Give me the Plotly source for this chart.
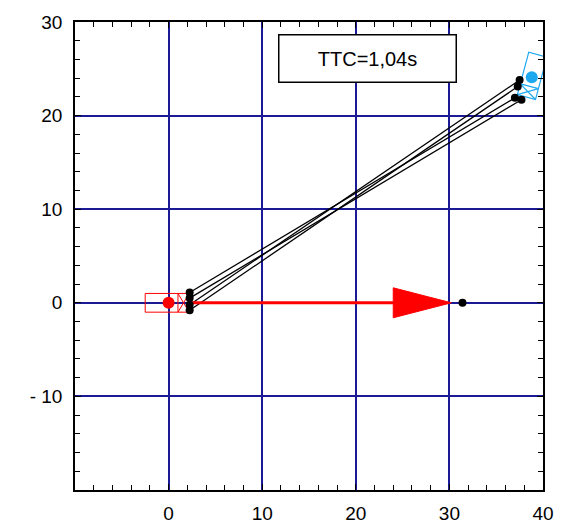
import numpy as np
import plotly.graph_objects as go

# ---------------- data ----------------
x_ticks = [0, 10, 20, 30, 40]
x_tick_labels = ["0", "10", "20", "30", "40"]
y_ticks = [-10, 0, 10, 20, 30]
y_tick_labels = ["- 10", "0", "10", "20", "30"]
x_range = [-10, 40]
y_range = [-20, 30]

# vehicles: reference point, heading (deg)
ego_ref = (0.0, 0.0)
ego_heading = 0.0
obj_ref = (38.8, 24.1)
obj_heading = -105.0
veh_rear = 2.5     # rear overhang from reference point
veh_front = 2.2    # front overhang from reference point
veh_half_w = 1.0
veh_div = 1.0      # front-section divider

# connection lines between ego corners and object corners
left_x = [2.25, 2.25, 2.25, 2.25]
left_y = [1.1, 0.5, -0.2, -0.8]
right_x = [37.0, 37.7, 37.5, 37.3]
right_y = [21.9, 21.7, 23.8, 23.1]

# ego velocity arrow
arrow_start = 2.3
arrow_tip = 30.2
arrow_head_len = 6.2
arrow_head_hw = 1.6
pred_point = (31.4, 0.0)

ttc_text = "TTC=1,04s"
ttc_pos = (21.3, 26.1)

RED = "#ff0000"
CYAN = "#1ea8f0"
GRID = "#1a1a96"


def vehicle(ref, heading_deg):
    h = np.deg2rad(heading_deg)
    u = np.array([np.cos(h), np.sin(h)])
    p = np.array([-u[1], u[0]])
    r = np.array(ref)
    rear = r - veh_rear * u
    front = r + veh_front * u
    div = r + veh_div * u
    rl, rr = rear + veh_half_w * p, rear - veh_half_w * p
    fl, fr = front + veh_half_w * p, front - veh_half_w * p
    dl, dr = div + veh_half_w * p, div - veh_half_w * p
    pts = [rl, rr, fr, fl, rl, None, dl, dr, None, dl, fr, None, dr, fl]
    xs = [q[0] if q is not None else None for q in pts]
    ys = [q[1] if q is not None else None for q in pts]
    return xs, ys


fig = go.Figure()

# connection lines
for lx, ly, rx, ry in zip(left_x, left_y, right_x, right_y):
    fig.add_trace(go.Scatter(x=[lx, rx], y=[ly, ry], mode="lines",
                             line=dict(color="black", width=1.3), showlegend=False))

# ego vehicle
ex, ey = vehicle(ego_ref, ego_heading)
fig.add_trace(go.Scatter(x=ex, y=ey, mode="lines", line=dict(color=RED, width=1),
                         showlegend=False))
# object vehicle
ox, oy = vehicle(obj_ref, obj_heading)
fig.add_trace(go.Scatter(x=ox, y=oy, mode="lines", line=dict(color=CYAN, width=1.2),
                         showlegend=False))

# arrow shaft + head
base = arrow_tip - arrow_head_len
fig.add_trace(go.Scatter(x=[arrow_start, base], y=[0, 0], mode="lines",
                         line=dict(color=RED, width=3), showlegend=False))
fig.add_trace(go.Scatter(x=[base, arrow_tip, base, base],
                         y=[arrow_head_hw, 0, -arrow_head_hw, arrow_head_hw],
                         mode="lines", fill="toself", fillcolor=RED,
                         line=dict(color=RED, width=1), showlegend=False))

# endpoint dots
fig.add_trace(go.Scatter(x=left_x + right_x + [pred_point[0]],
                         y=left_y + right_y + [pred_point[1]],
                         mode="markers", marker=dict(color="black", size=8),
                         showlegend=False))
fig.add_trace(go.Scatter(x=[ego_ref[0]], y=[ego_ref[1]], mode="markers",
                         marker=dict(color=RED, size=12), showlegend=False))
fig.add_trace(go.Scatter(x=[obj_ref[0]], y=[obj_ref[1]], mode="markers",
                         marker=dict(color=CYAN, size=12), showlegend=False))

fig.add_annotation(x=ttc_pos[0], y=ttc_pos[1], text=ttc_text, showarrow=False,
                   font=dict(family="Liberation Sans, Arial", size=20, color="black"),
                   bordercolor="black", borderwidth=1.5, bgcolor="white",
                   width=174, height=44)

axis_common = dict(
    showgrid=True, gridcolor=GRID, gridwidth=1.5,
    zeroline=False, showline=True, linecolor="black", linewidth=1.5,
    mirror="ticks", ticks="inside", ticklen=6, tickcolor="black",
    tickfont=dict(family="Liberation Sans, Arial", size=19, color="black"),
    minor=dict(dtick=2, ticks="inside", ticklen=5, tickcolor="black", showgrid=False),
    fixedrange=True, automargin=False,
)

# page body has an 8px margin, so the figure is sized to fit the window
fig.update_layout(
    width=557, height=517,
    margin=dict(l=67, r=22, t=14, b=35, autoexpand=False),
    plot_bgcolor="white", paper_bgcolor="white",
    xaxis=dict(range=x_range, tickvals=x_ticks, ticktext=x_tick_labels,
               ticklabelstandoff=5, **axis_common),
    yaxis=dict(range=y_range, tickvals=y_ticks, ticktext=y_tick_labels,
               ticklabelstandoff=7, **axis_common),
)

fig.write_html("out.html")
